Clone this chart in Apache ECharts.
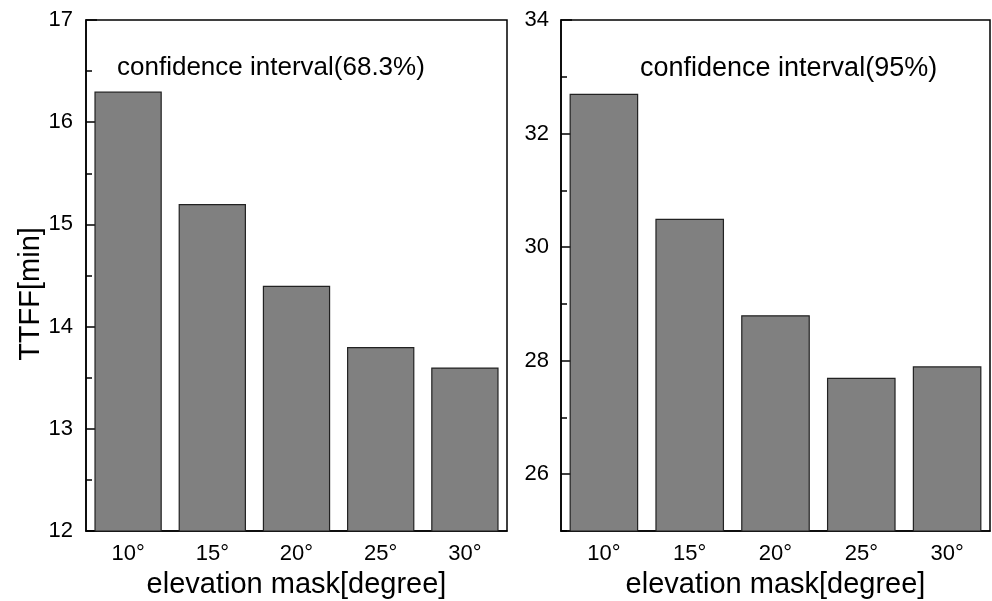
<!DOCTYPE html>
<html><head><meta charset="utf-8">
<script src="https://cdn.jsdelivr.net/npm/echarts@6/dist/echarts.min.js"></script>
<style>html,body{margin:0;padding:0;background:#fff}#c{width:992px;height:601px}</style>
</head><body><div id="c"></div>
<script>
const categories = ['10°','15°','20°','25°','30°'];
const ttff683 = [16.3, 15.2, 14.4, 13.8, 13.6];
const ttff95 = [32.7, 30.5, 28.8, 27.7, 27.9];
const leftTicks = [12, 13, 14, 15, 16, 17];
const rightMajorTicks = [26, 28, 30, 32, 34];
const rightMinorTicks = [25, 27, 29, 31, 33];
const titles = ['confidence interval(68.3%)', 'confidence interval(95%)'];
const xName = 'elevation mask[degree]';
const yName = 'TTFF[min]';

const FONT = 'Liberation Sans, Arial, sans-serif';
const chart = echarts.init(document.getElementById('c'), null, {renderer: 'canvas'});

const gridCommon = {top: 20, bottom: 70, show: true, borderColor: '#000', borderWidth: 1.5,
  backgroundColor: 'transparent', containLabel: false, outerBoundsMode: 'none'};
function xAxis(gi) {
  return {
    type: 'category', gridIndex: gi, data: categories,
    axisLine: {lineStyle: {color: '#000', width: 1.5}},
    axisTick: {inside: true, alignWithLabel: true, length: 11, lineStyle: {color: '#000', width: 1.5}},
    axisLabel: {color: '#000', fontSize: 22, fontFamily: FONT, margin: 12},
    name: xName, nameLocation: 'middle', nameGap: 39, nameMoveOverlap: false,
    nameTextStyle: {color: '#000', fontSize: 29, fontFamily: FONT}
  };
}
const barStyle = {color: '#808080', borderColor: '#222', borderWidth: 1.2};

chart.setOption({
  animation: false,
  backgroundColor: '#fff',
  grid: [
    Object.assign({left: 86, right: 485}, gridCommon),
    Object.assign({left: 561, right: 2}, gridCommon)
  ],
  xAxis: [xAxis(0), xAxis(1)],
  yAxis: [
    {
      type: 'value', gridIndex: 0, position: 'left', min: leftTicks[0], max: leftTicks[leftTicks.length - 1], interval: 1,
      splitLine: {show: false},
      axisLine: {show: true, lineStyle: {color: '#000', width: 1.5}},
      axisTick: {show: true, inside: true, length: 11, lineStyle: {color: '#000', width: 1.5}},
      minorTick: {show: true, splitNumber: 2, length: 6, lineStyle: {color: '#000', width: 1.5}},
      axisLabel: {color: '#000', fontSize: 22, fontFamily: FONT, margin: 13}
    },
    {
      type: 'value', gridIndex: 1, position: 'left', min: 25, max: 34,
      splitLine: {show: false},
      axisLine: {show: true, lineStyle: {color: '#000', width: 1.5}},
      axisTick: {show: true, inside: true, length: 11, customValues: rightMajorTicks, lineStyle: {color: '#000', width: 1.5}},
      axisLabel: {color: '#000', fontSize: 22, fontFamily: FONT, margin: 12, customValues: rightMajorTicks}
    },
    {
      type: 'value', gridIndex: 1, position: 'left', offset: 0, min: 25, max: 34,
      splitLine: {show: false},
      axisLine: {show: false},
      axisTick: {show: true, inside: true, length: 6, customValues: rightMinorTicks, lineStyle: {color: '#000', width: 1.5}},
      axisLabel: {show: false}
    }
  ],
  series: [
    {type: 'bar', xAxisIndex: 0, yAxisIndex: 0, data: ttff683, barCategoryGap: '20%', itemStyle: barStyle},
    {type: 'bar', xAxisIndex: 1, yAxisIndex: 1, data: ttff95, barCategoryGap: '20%', itemStyle: barStyle}
  ],
  graphic: [
    {type: 'text', left: 117, top: 55, z: 100, style: {text: titles[0], fill: '#000', font: '26px ' + FONT}},
    {type: 'text', left: 640, top: 55, z: 100, style: {text: titles[1], fill: '#000', font: '27px ' + FONT}},
    {type: 'text', x: 31, y: 294, rotation: Math.PI / 2, z: 100,
     style: {text: yName, fill: '#000', font: '29px ' + FONT, align: 'center', verticalAlign: 'middle'}}
  ]
});
</script></body></html>
